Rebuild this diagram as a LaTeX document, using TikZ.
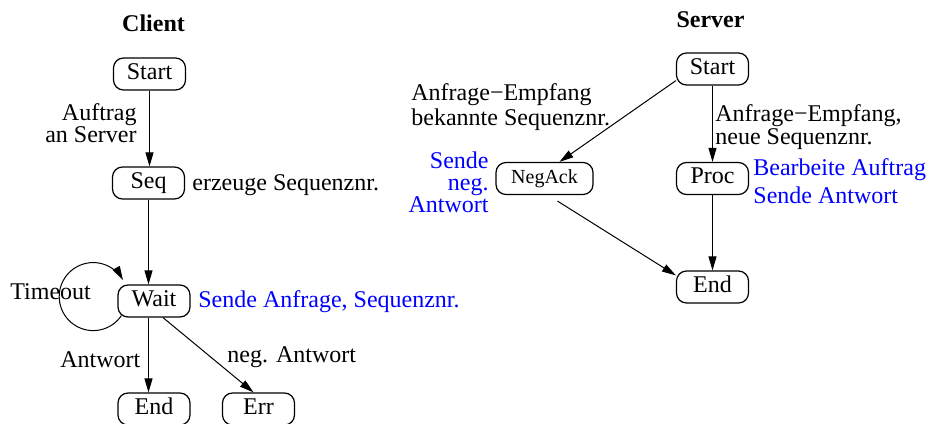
\documentclass[tikz,border=0pt]{standalone}
\usepackage{fontspec}
\setmainfont{Liberation Serif}
\usetikzlibrary{arrows.meta}
\definecolor{lblue}{RGB}{0,0,255}
\tikzset{
  state/.style={draw, line width=0.6pt, rounded corners=5pt, minimum width=36pt, minimum height=16pt,
    inner xsep=6pt, inner ysep=0pt, text height=0.75em, text depth=0.22em, font=\fontsize{12}{12}\selectfont},
  lbl/.style={inner sep=0pt, font=\fontsize{12}{12}\selectfont},
  act/.style={lbl, text=lblue},
  ttl/.style={inner sep=0pt, font=\fontsize{12}{12}\selectfont\bfseries},
  arr/.style={line width=0.5pt, -{Triangle[length=7pt,width=4pt]}}
}
\begin{document}
\begin{tikzpicture}[x=0.5pt,y=-0.5pt]
\useasboundingbox (0,0) rectangle (937,423);
% Client
\node[ttl, anchor=base] (ctitle) at (153.5,31.5) {Client};
\node[state] (cstart) at (149.5,74) {Start};
\node[state] (cseq) at (148.5,183) {Seq};
\node[state] (cwait) at (154,301) {Wait};
\node[state] (cend) at (154,409) {End};
\node[state] (cerr) at (258.5,409) {Err};
\node[lbl, anchor=east, align=right, font=\fontsize{12}{11}\selectfont] (lauftrag) at (137,123) {Auftrag\\an Server};
\node[lbl, anchor=base west] (lerz) at (192,190) {erzeuge Sequenznr.};
\node[lbl, anchor=base west] (ltimeout) at (10,299) {Timeout};
\node[act, anchor=base west] (lsende) at (198,307) {Sende Anfrage, Sequenznr.};
\node[lbl, anchor=base west] (lantw) at (60,367) {Antwort};
\node[lbl, anchor=base west] (lneg) at (227,362) {neg. Antwort};
\draw[arr] (cstart.south) -- (cstart.south |- cseq.north);
\draw[arr] (cseq.south) -- (cseq.south |- cwait.north);
\draw[arr] (cseq.south |- cwait.south) -- (cseq.south |- cend.north);
\draw[arr] ([shift={(9,0)}]cwait.south) -- ([shift={(-5,0)}]cerr.north);
\coordinate (loopstart) at ([shift={(4,-2)}]cwait.south west);
\draw[arr] (loopstart) arc[start angle=-34, end angle=-331, radius=17pt];
% Server
\node[ttl, anchor=base] (stitle) at (710.5,27) {Server};
\node[state] (sstart) at (712.5,69) {Start};
\node[state, minimum width=48.5pt, font=\fontsize{10}{10}\selectfont] (negack) at (544.5,178.5) {NegAck};
\node[state] (proc) at (712.5,178.5) {Proc};
\node[state] (send) at (712.5,287) {End};
\node[lbl, anchor=west, align=left, font=\fontsize{12}{12.5}\selectfont] (lbek) at (411,107) {Anfrage−Empfang\\bekannte Sequenznr.};
\node[lbl, anchor=west, align=left, font=\fontsize{12}{10.5}\selectfont] (lneu) at (715,127) {Anfrage−Empfang,\\ neue Sequenznr.};
\node[act, anchor=east, align=right, font=\fontsize{12}{11}\selectfont] (lsneg) at (489,182) {Sende\\neg.\\Antwort};
\node[act, anchor=west, align=left, font=\fontsize{12}{14}\selectfont] (lbearb) at (753,181) {Bearbeite Auftrag\\Sende Antwort};
\draw[arr] ([shift={(0,-5)}]sstart.south west) -- ([shift={(15,0)}]negack.north);
\draw[arr] (sstart.south) -- (sstart.south |- proc.north);
\draw[arr] (proc.south) -- (proc.south |- send.north);
\draw[arr] ([shift={(13,6)}]negack.south) -- ([shift={(0,5)}]send.north west);
\end{tikzpicture}
\end{document}
